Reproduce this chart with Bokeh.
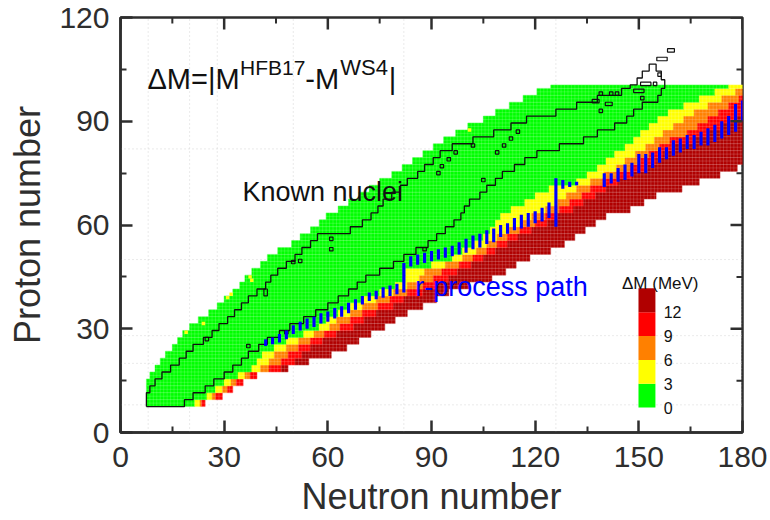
from bokeh.plotting import figure
from bokeh.models import FixedTicker, Range1d, Label
from bokeh.embed import file_html
from bokeh.resources import INLINE

FONT = "Liberation Sans"
TXT = "#2e2e2e"

# ---------------- data ----------------
# heat-map rows: proton number of each 2-row band
row_z = [8, 10, 12, 14, 16, 18, 20, 22, 24, 26, 28, 30, 32, 34, 36, 38, 40, 42, 44, 46,
         48, 50, 52, 54, 56, 58, 60, 62, 64, 66, 68, 70, 72, 74, 76, 78, 80, 82, 84, 86,
         88, 90, 92, 94, 96, 98, 100]
# neutron-number edges of each colour class along the row
left_edge = [7.5, 7.5, 7.5, 7.5, 8.5, 10, 11.5, 13, 15, 16.5, 18, 20, 22.5, 25.5, 28, 30, 32.5, 34.5, 36, 38,
             40.5, 42.5, 45.5, 49.5, 52, 55, 57.5, 59.5, 63, 66, 69, 72, 75, 78.5, 81.5, 84.5, 87.5, 90.5, 93.5, 97,
             100.5, 105, 108.5, 112.5, 116.5, 120.5, 124.5]
green_end = [21.5, 25, 27.5, 30, 34, 38, 39.5, 41, 44.5, 48, 53, 57.5, 59.5, 63, 66.5, 70, 75, 79.5, 82.5, 82.5,
             90, 96, 99, 102, 105, 107, 108.5, 110, 113, 117, 120, 124, 132, 135, 138, 140.5, 143, 146, 148.5, 150.5,
             153, 155.5, 158.5, 163, 167.5, 172, 176]
yellow_end = [23, 26.5, 29.5, 32, 36, 40.5, 43, 44.5, 48, 51.5, 56, 60.5, 62.5, 66.5, 70, 74, 79, 83, 86.5, 88,
              94, 99, 103, 106, 109, 112, 116, 119, 123, 126.5, 129, 132, 136, 140, 143.5, 146, 149, 152, 154.5, 157,
              160, 163, 166, 170, 174, 178, 180.5]
orange_end = [23.5, 27.5, 31, 33.5, 37.5, 43, 46.5, 48.5, 51.5, 55, 59, 63.5, 66.5, 70, 74.5, 78, 83, 87.5, 90.5, 93,
              98, 102, 106, 109, 112, 115.5, 120, 123, 127, 130, 133.5, 136, 139.5, 143.5, 147.5, 150.5, 153, 156, 159, 164,
              167, 170, 173, 176, 179, 180.5, 180.5]
red_end = [24.5, 29.5, 32.5, 35.5, 39.5, 46.5, 50.5, 52.5, 55, 58.5, 62.5, 67.5, 70.5, 74, 79, 82, 87.5, 91.5, 95, 97.5,
           101.5, 105, 108.5, 112, 115, 119, 123.5, 126.5, 131, 134, 137.5, 140.5, 144, 148, 152.5, 155, 157, 159.5, 166, 170,
           174, 177.5, 180.5, 180.5, 180.5, 180.5, 180.5]
right_edge = [24.5, 29.5, 32.5, 35.5, 39.5, 48.5, 54.5, 61, 65.5, 69, 72.5, 76.5, 79.5, 83, 87.5, 91.5, 95, 101, 107.5, 111.5,
              114.5, 118.5, 124.5, 128.5, 131.5, 134.5, 137.5, 140.5, 147.5, 151.5, 155, 162.5, 167.5, 173.5, 178.5, 180.5, 180.5, 180.5, 180.5, 180.5,
              180.5, 180.5, 180.5, 180.5, 180.5, 180.5, 180.5]
class_colors = ["#00ff00", "#ffff00", "#ff8000", "#ff0000", "#b00000"]

# isolated yellow cells on the proton-rich edge
edge_cell_n = [19, 24, 31, 32, 37.5, 38, 101]
edge_cell_z = [29, 31.5, 39, 40, 45, 44, 87.5]

# known-nuclei contour: left / right boundary for each row, plus the top cap
known_left = [7.5, 7.5, 8.5, 10, 12, 14.5, 17, 19, 21, 24, 26.5, 28.5, 31, 33, 35, 37, 39.5, 42, 43.5, 45.5,
              48, 50.5, 52.5, 55, 57, 66.5, 70, 72.5, 74.5, 76, 78.5, 81, 83, 86, 88, 90.5, 92.5, 96, 102, 108,
              113, 117.5, 126, 132, 138, 145, 147.5]
known_right = [18.5, 21, 24.5, 27, 30, 32.5, 35, 37, 40, 42.5, 46, 49, 53, 56.5, 60, 63, 66, 68.5, 71, 75,
               79, 82, 85.5, 89, 91.5, 94, 96.5, 98.5, 99.5, 101, 104, 106, 108.5, 110.5, 114, 117, 120.5, 127, 134, 138,
               143, 146.5, 148.5, 151, 155.5, 156.5, 157.5]
known_top_n = [149.5, 149.5, 151, 151, 153, 153, 155, 155, 156.5, 156.5, 157.5, 157.5]
known_top_z = [100.5, 102.5, 102.5, 104.5, 104.5, 106.5, 106.5, 104.5, 104.5, 102, 102, 100.5]

# small isolated contour islands
island_n = [25, 37, 42, 48, 50, 52, 61, 61, 88, 92, 93, 95, 97, 102, 105, 109, 111, 113, 115,
            139, 137.5, 141.3, 139, 142, 143.7, 151, 150, 152, 154.7, 156, 156.7, 159.3]
island_z = [27, 25, 40.5, 29, 49.3, 49.6, 53, 56, 53, 75, 77, 79, 81, 83, 73, 81, 83, 85, 87,
            93, 95.8, 95, 98, 98, 98, 96.7, 98.8, 100.8, 100.8, 103.5, 108, 110.5]
island_w = [1, 1, 1, 1, 1, 1, 1, 1, 1, 1, 1, 1, 1, 1, 1, 1, 1, 1, 1,
            1, 2, 2, 1, 1, 1, 1, 3, 3, 1, 1, 3, 2]
island_h = [1, 1, 2, 1, 1, 1, 1, 1, 1, 1, 1, 1, 1, 1, 1, 1, 1, 1, 1,
            1, 1, 1, 1, 1, 1, 1, 1, 1, 1, 1, 1, 1]

# r-process path: neutron number and proton-number span of each bar
rpath_n = [42, 44, 46, 48, 50, 52, 54, 56, 58, 60, 62, 64, 66, 68, 70, 72, 74, 76, 78, 80,
           82, 84, 86, 88, 90, 92, 94, 96, 98, 100, 102, 104, 106, 108, 110, 112, 114, 116, 118, 120,
           122, 124, 126, 128, 130, 132, 140, 142, 144, 146, 148, 150, 152, 154, 156, 158, 160, 162, 164, 166,
           168, 170, 172, 174, 176, 178, 180]
rpath_zlo = [25, 25.5, 26, 27, 28.5, 29.5, 30, 30.5, 31.5, 32, 33, 33.5, 34.5, 35.5, 37, 38, 38.5, 39, 39.5, 40,
             40.5, 48, 48.5, 49, 49.5, 50, 50.5, 51, 51.5, 52, 53, 53.5, 54.5, 55, 56.5, 57.5, 58.5, 59, 59.5, 60.5,
             61, 62, 59.5, 70.5, 71, 71.5, 71, 72, 72.5, 73, 74, 75, 75, 76.5, 78, 79, 80, 81, 82, 82,
             83, 83, 84, 85, 86, 87, 90]
rpath_zhi = [27, 27.5, 28.5, 29.5, 31, 32, 33, 33.5, 34.5, 35, 36, 36.5, 37.5, 38.5, 39.5, 40.5, 41, 42, 42.5, 43,
             49, 51, 51.5, 52, 52.5, 53, 53.5, 54, 55, 56, 57, 57.5, 58.5, 59, 60, 60.5, 62, 63, 63.5, 64,
             65, 66.5, 73.5, 73, 72.5, 72.5, 75, 75, 76.5, 77.5, 78, 80.5, 80.5, 81, 82.5, 82.5, 84.5, 85, 86, 86,
             87, 88, 89, 90, 91.5, 95, 96]

magic_numbers = [8, 20, 28, 50, 82, 126]
legend_values = [0, 3, 6, 9, 12]

x_major = [0, 30, 60, 90, 120, 150, 180]
x_minor = [15, 45, 75, 105, 135, 165]
y_major = [0, 30, 60, 90, 120]
y_minor = [15, 45, 75, 105]

# ---------------- figure ----------------
FRAME_W, FRAME_H = 622, 415
p = figure(width=770, height=520, x_range=Range1d(0, 180), y_range=Range1d(0, 120),
           output_backend="svg", toolbar_location=None,
           min_border_left=120, min_border_right=28, min_border_top=17, min_border_bottom=88)
p.grid.visible = False
p.outline_line_color = TXT
p.outline_line_width = 2.5
p.background_fill_color = "white"
PX_N = FRAME_W / 180.0   # pixels per neutron number
PX_Z = FRAME_H / 120.0   # pixels per proton number

# magic-number guide lines (faint, dotted)
for m in magic_numbers:
    p.line([m, m], [0, 120], line_color="#d4d4d4", line_dash="1 3", line_width=1)
    if m <= 82:
        p.line([0, 180], [m, m], line_color="#d4d4d4", line_dash="1 3", line_width=1)

# heat map
bounds = [left_edge, green_end, yellow_end, orange_end, red_end, right_edge]
ql, qr, qb, qt, qc = [], [], [], [], []
for i, z in enumerate(row_z):
    lo = z - 0.5
    hi = min(z + 1.5, 100.5)
    for k in range(5):
        a, b = bounds[k][i], bounds[k + 1][i]
        if b > a:
            ql.append(a); qr.append(b); qb.append(lo); qt.append(hi); qc.append(class_colors[k])
p.quad(left=ql, right=qr, bottom=qb, top=qt, fill_color=qc, line_color=qc, line_width=0.4)
p.rect(x=edge_cell_n, y=edge_cell_z, width=1, height=1, fill_color="#ffff00", line_color=None)

# faint cell grid
gx0, gx1, gy0, gy1 = [], [], [], []
for n in range(8, 181):
    gx0.append(n - 0.5); gx1.append(n - 0.5); gy0.append(7.5); gy1.append(100.5)
for z in range(8, 102):
    gx0.append(7.5); gx1.append(180); gy0.append(z - 0.5); gy1.append(z - 0.5)
p.segment(x0=gx0, y0=gy0, x1=gx1, y1=gy1, line_color="white", line_alpha=0.28, line_width=0.6)

# known nuclei contour
xs, ys = [known_left[0]], [7.5]
for i, z in enumerate(row_z):
    lo = z - 0.5
    hi = min(z + 1.5, 100.5)
    xs += [known_left[i], known_left[i]]
    ys += [lo, hi]
xs += known_top_n
ys += known_top_z
for i in range(len(row_z) - 1, -1, -1):
    z = row_z[i]
    lo = z - 0.5
    hi = min(z + 1.5, 100.5)
    xs += [known_right[i], known_right[i]]
    ys += [hi, lo]
xs.append(known_left[0]); ys.append(7.5)
p.line(xs, ys, line_color="#111111", line_width=1.3)
p.rect(x=island_n, y=island_z, width=island_w, height=island_h, fill_color=None,
       line_color="#111111", line_width=1.2)

# r-process path
p.quad(left=[n - 0.45 for n in rpath_n], right=[n + 0.45 for n in rpath_n],
       bottom=rpath_zlo, top=rpath_zhi, fill_color="#0000ff", line_color=None)

# legend colour bar
LEG_X0, LEG_X1, LEG_Y0, LEG_DY = 149.9, 154.8, 7.2, 6.9
lb = [LEG_Y0 + LEG_DY * k for k in range(len(legend_values))]
p.quad(left=LEG_X0, right=LEG_X1, bottom=lb, top=[b + LEG_DY for b in lb],
       fill_color=class_colors, line_color=None)
for k, v in enumerate(legend_values):
    p.add_layout(Label(x=157.2, y=LEG_Y0 + LEG_DY * k, text=str(v), text_font=FONT,
                       text_font_size="16px", text_color="#111111", text_baseline="middle",
                       text_align="left"))
p.add_layout(Label(x=156.2, y=43.1, text="\u0394M (MeV)", text_font=FONT, text_font_size="17px",
                   text_color="#111111", text_align="center", text_baseline="alphabetic"))

# annotations
def lab(x, y, t, size, color="#111111"):
    p.add_layout(Label(x=x, y=y, text=t, text_font=FONT, text_font_size=size,
                       text_color=color, text_align="left", text_baseline="alphabetic"))

lab(7.8, 102.3, "\u0394M=|M", "29px")
lab(34.6, 105.4, "HFB17", "21px")
lab(53.5, 102.3, "-M", "29px")
lab(63.6, 105.4, "WS4", "22px")
lab(77.6, 102.3, "|", "29px")
lab(35.3, 69.4, "Known nuclei", "27px")
lab(85.3, 42.2, "r-process path", "27px", "#0000ff")

# mirrored inward ticks on the top and right edges
MAJ, MIN = 12, 6
p.segment(x0=x_major, y0=[120] * len(x_major), x1=x_major, y1=[120 - MAJ / PX_Z] * len(x_major),
          line_color=TXT, line_width=2.5)
p.segment(x0=x_minor, y0=[120] * len(x_minor), x1=x_minor, y1=[120 - MIN / PX_Z] * len(x_minor),
          line_color=TXT, line_width=2)
p.segment(x0=[180] * len(y_major), y0=y_major, x1=[180 - MAJ / PX_N] * len(y_major), y1=y_major,
          line_color=TXT, line_width=2.5)
p.segment(x0=[180] * len(y_minor), y0=y_minor, x1=[180 - MIN / PX_N] * len(y_minor), y1=y_minor,
          line_color=TXT, line_width=2)

# axes
def style(ax, standoff):
    ax.axis_line_width = 2.5
    ax.axis_line_color = TXT
    ax.major_tick_in = MAJ
    ax.major_tick_out = 0
    ax.major_tick_line_width = 2.5
    ax.major_tick_line_color = TXT
    ax.minor_tick_in = MIN
    ax.minor_tick_out = 0
    ax.minor_tick_line_width = 2
    ax.minor_tick_line_color = TXT
    ax.major_label_text_font = FONT
    ax.major_label_text_color = TXT
    ax.major_label_text_font_size = "30px"
    ax.major_label_standoff = standoff
    ax.axis_label_text_font = FONT
    ax.axis_label_text_font_size = "36px"
    ax.axis_label_text_font_style = "normal"
    ax.axis_label_text_color = TXT

xt = FixedTicker(ticks=x_major, minor_ticks=x_minor)
yt = FixedTicker(ticks=y_major, minor_ticks=y_minor)
for ax in p.xaxis:
    ax.ticker = xt
    style(ax, 14)
    ax.axis_label = "Neutron number"
    ax.axis_label_standoff = 6
for ax in p.yaxis:
    ax.ticker = yt
    style(ax, 11)
    ax.axis_label = "Proton number"
    ax.axis_label_standoff = 8

open("out.html", "w").write(file_html(p, INLINE))
